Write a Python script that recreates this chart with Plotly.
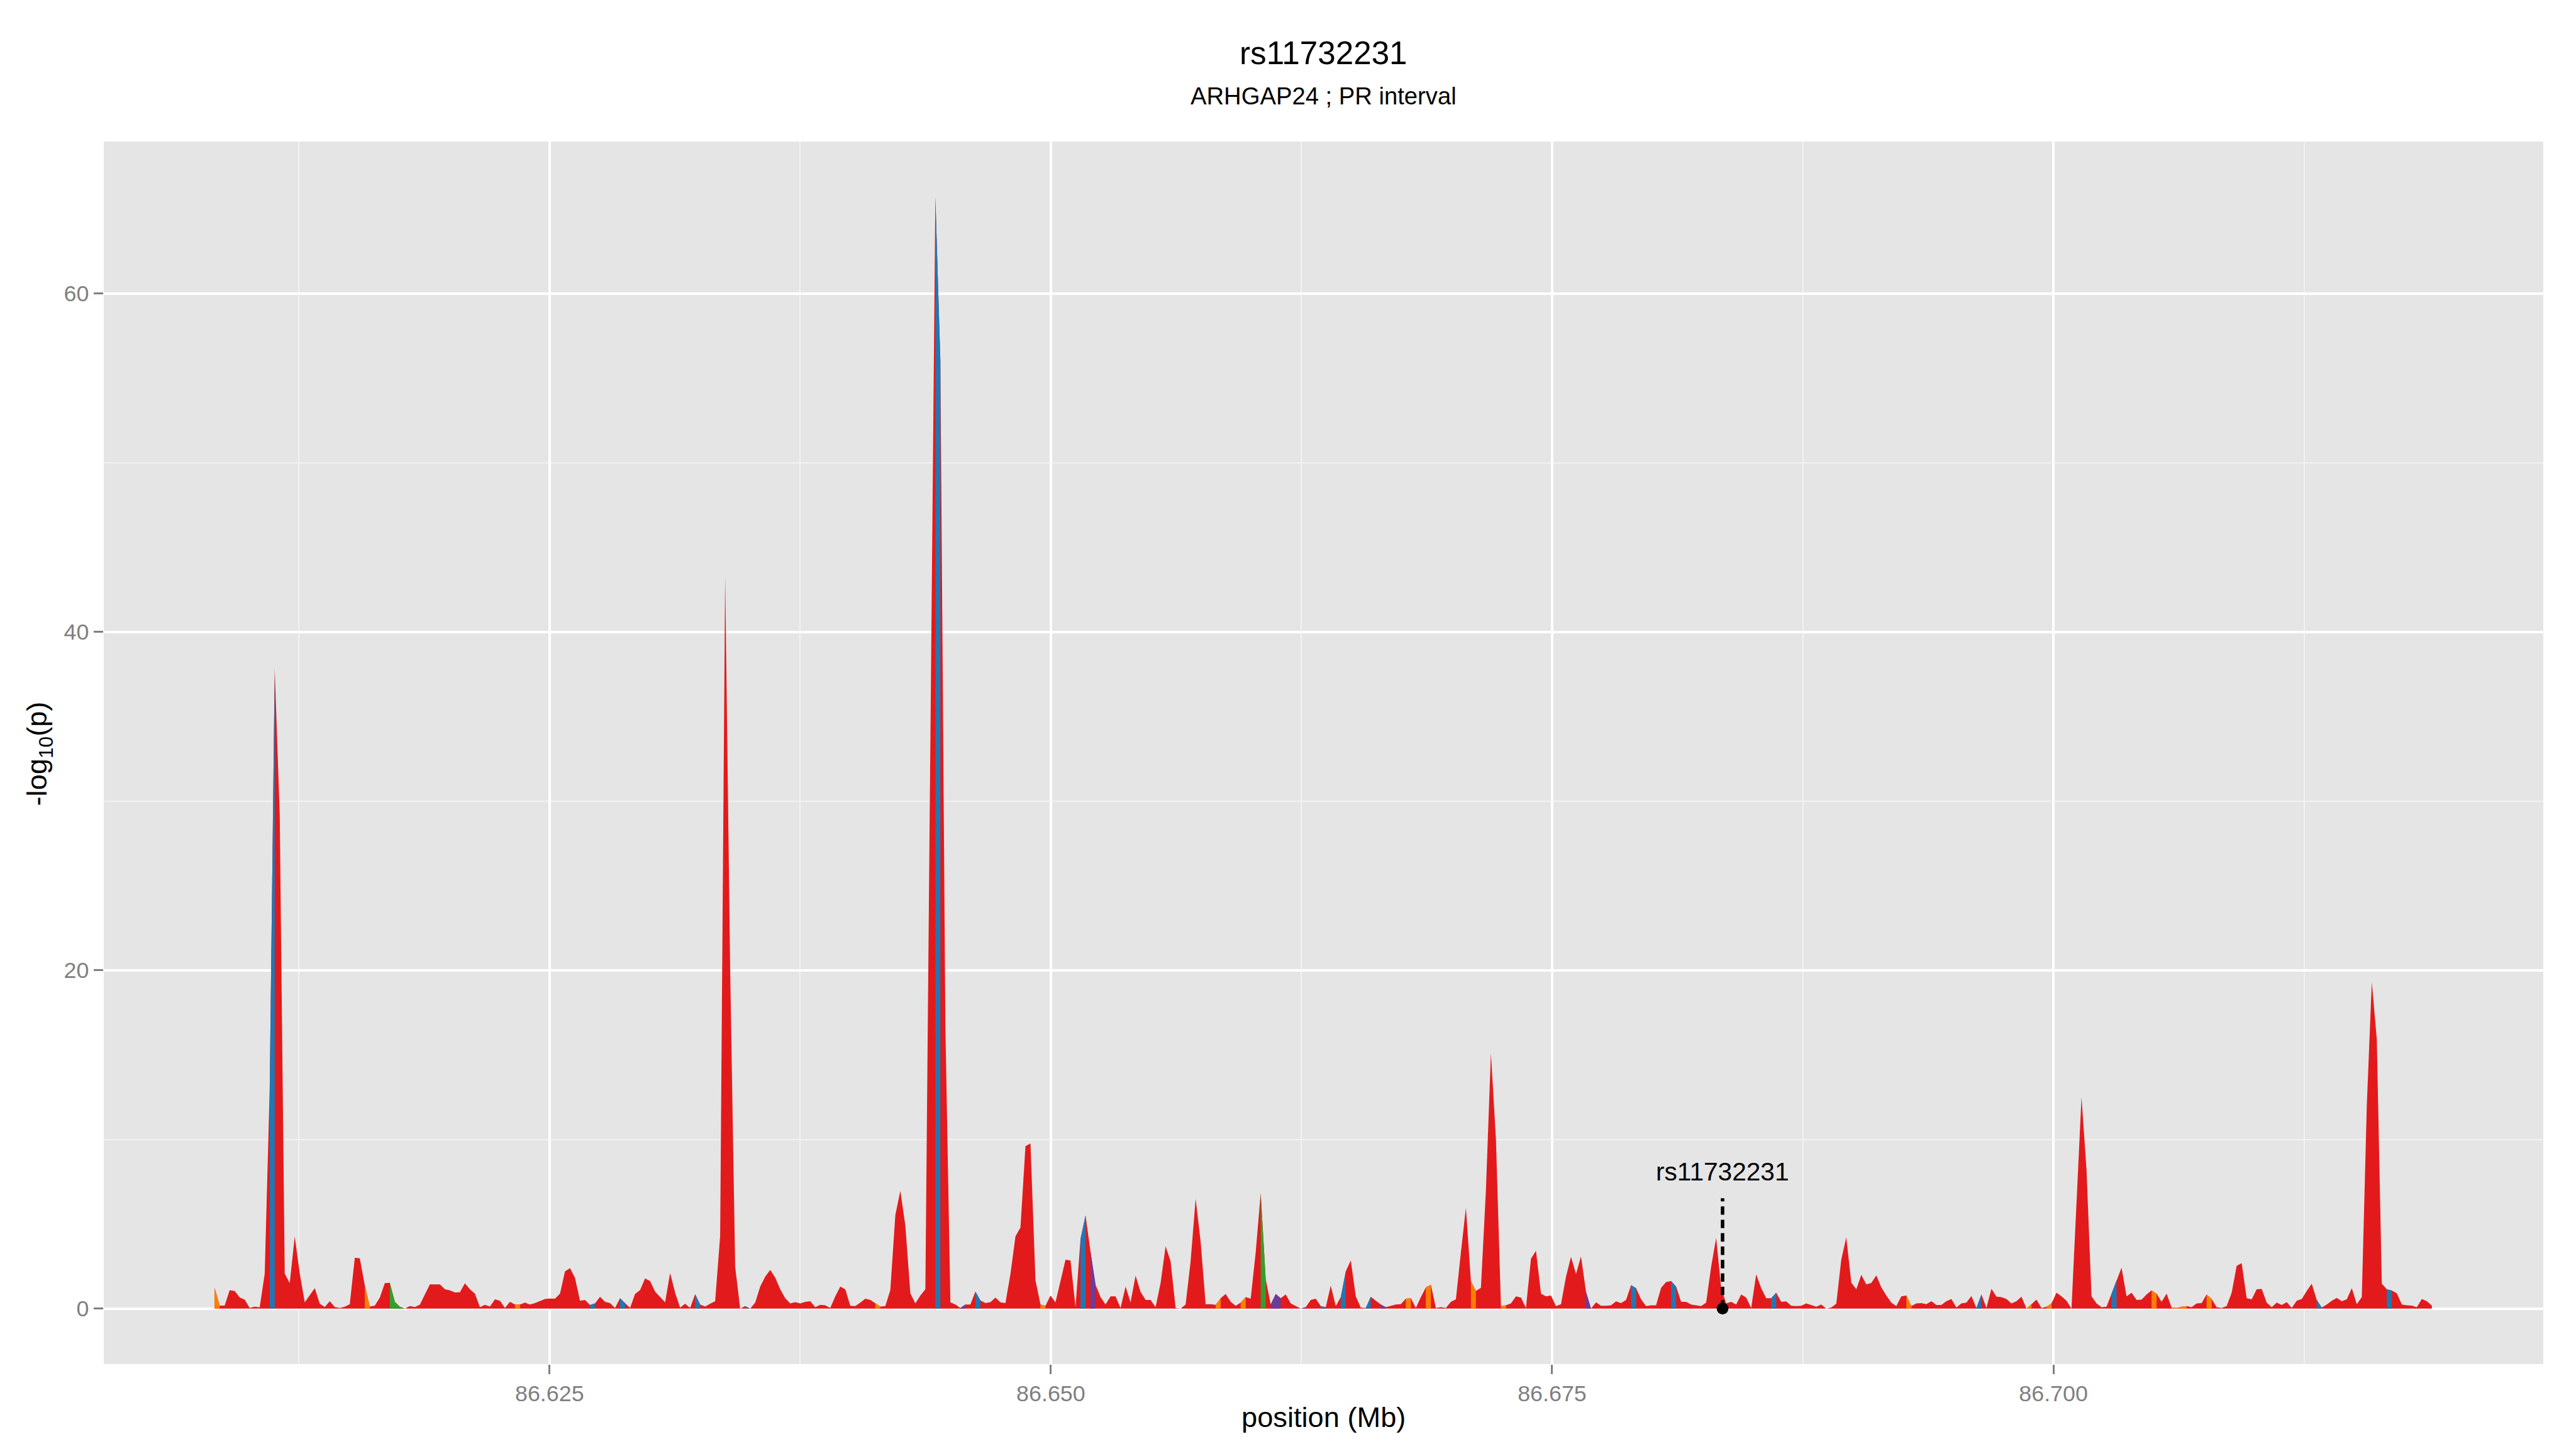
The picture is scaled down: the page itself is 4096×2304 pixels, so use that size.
import plotly.graph_objects as go

# ---------------- data ----------------
TITLE = "rs11732231"
SUBTITLE = "ARHGAP24 ; PR interval"
X_TITLE = "position (Mb)"
Y_TITLE = "-log<sub>10</sub>(p)"

POS_START = 86.6083      # Mb, first bin
POS_STEP = 0.0002496     # Mb between bins

LOGP = [
    1.22, 0.17, 0.17, 1.08, 1.04, 0.66, 0.53, 0.03, 0.11, 0.07,
    2.05, 13.0, 37.8, 29.2, 2.07, 1.5, 4.26, 2.07, 0.37, 0.8,
    1.2, 0.28, 0.09, 0.43, 0.09, 0.03, 0.11, 0.26, 3.0, 2.97,
    1.36, 0.12, 0.17, 0.65, 1.5, 1.52, 0.4, 0.11, 0.0, 0.14,
    0.09, 0.23, 0.85, 1.43, 1.43, 1.43, 1.14, 1.07, 0.95, 0.96,
    1.49, 1.14, 0.88, 0.08, 0.22, 0.12, 0.54, 0.46, 0.03, 0.4,
    0.24, 0.24, 0.35, 0.24, 0.32, 0.43, 0.56, 0.59, 0.58, 0.88,
    2.2, 2.38, 1.81, 0.46, 0.51, 0.21, 0.3, 0.69, 0.4, 0.32,
    0.03, 0.61, 0.3, 0.03, 0.86, 1.09, 1.78, 1.62, 1.0, 0.67,
    0.37, 2.1, 0.93, 0.05, 0.28, 0.03, 0.85, 0.24, 0.12, 0.28,
    0.43, 4.3, 43.3, 20.0, 2.47, 0.0, 0.14, 0.0, 0.35, 1.3,
    1.88, 2.28, 1.83, 1.14, 0.61, 0.3, 0.38, 0.3, 0.4, 0.43,
    0.08, 0.22, 0.19, 0.03, 0.72, 1.3, 1.14, 0.16, 0.14, 0.35,
    0.58, 0.51, 0.32, 0.12, 0.14, 1.09, 5.53, 6.96, 4.9, 0.9,
    0.3, 0.77, 1.14, 33.0, 65.7, 56.0, 16.6, 0.37, 0.24, 0.03,
    0.24, 0.24, 1.0, 0.48, 0.32, 0.38, 0.65, 0.37, 0.32, 2.04,
    4.26, 4.79, 9.6, 9.75, 1.67, 0.24, 0.16, 0.77, 0.37, 1.62,
    2.89, 2.84, 0.08, 4.1, 5.51, 3.35, 1.41, 0.67, 0.24, 0.72,
    0.72, 0.03, 1.3, 0.37, 1.94, 0.98, 0.51, 0.51, 0.08, 1.51,
    3.68, 2.78, 0.03, 0.0, 0.24, 2.8, 6.49, 3.95, 0.26, 0.26,
    0.22, 0.61, 0.86, 0.4, 0.16, 0.35, 0.67, 0.58, 3.31, 6.83,
    1.72, 0.24, 0.86, 0.61, 0.83, 0.3, 0.16, 0.0, 0.08, 0.51,
    0.58, 0.14, 0.08, 1.35, 0.14, 0.67, 2.2, 2.84, 0.72, 0.05,
    0.03, 0.69, 0.46, 0.24, 0.08, 0.16, 0.24, 0.26, 0.58, 0.61,
    0.03, 0.67, 1.25, 1.41, 0.03, 0.08, 0.03, 0.4, 0.54, 3.31,
    5.96, 1.62, 1.04, 1.22, 7.0, 15.1, 10.0, 0.14, 0.19, 0.3,
    0.72, 0.65, 0.03, 2.94, 3.42, 0.88, 0.72, 0.77, 0.14, 0.26,
    1.88, 3.05, 2.04, 3.08, 0.98, 0.0, 0.37, 0.16, 0.16, 0.19,
    0.42, 0.32, 0.51, 1.38, 1.2, 0.54, 0.14, 0.19, 0.19, 1.22,
    1.57, 1.62, 1.3, 0.4, 0.4, 0.24, 0.19, 0.14, 0.35, 2.47,
    4.18, 1.2, 0.3, 0.4, 0.24, 0.83, 0.65, 0.03, 2.02, 1.2,
    0.61, 0.61, 0.93, 0.4, 0.42, 0.16, 0.14, 0.16, 0.3, 0.21,
    0.11, 0.24, 0.0, 0.06, 0.28, 2.89, 4.21, 1.53, 1.14, 1.99,
    1.43, 1.51, 1.96, 1.25, 0.77, 0.35, 0.14, 0.72, 0.77, 0.14,
    0.3, 0.32, 0.26, 0.43, 0.21, 0.21, 0.43, 0.56, 0.06, 0.3,
    0.35, 0.74, 0.03, 0.83, 0.03, 1.17, 0.7, 0.67, 0.56, 0.3,
    0.43, 0.7, 0.0, 0.26, 0.53, 0.03, 0.11, 0.3, 0.93, 0.72,
    0.46, 0.0, 6.0, 12.5, 8.18, 0.72, 0.3, 0.08, 0.11, 0.88,
    1.67, 2.41, 0.72, 0.93, 0.51, 0.53, 0.83, 1.07, 0.88, 0.4,
    0.88, 0.05, 0.03, 0.11, 0.14, 0.08, 0.3, 0.32, 0.83, 0.56,
    0.08, 0.03, 0.14, 0.93, 2.52, 2.68, 0.61, 0.54, 1.14, 1.16,
    0.35, 0.08, 0.35, 0.21, 0.38, 0.03, 0.46, 0.56, 1.04, 1.46,
    0.51, 0.06, 0.24, 0.46, 0.63, 0.43, 0.54, 1.2, 0.26, 0.67,
    12.0, 19.3, 15.9, 1.46, 1.14, 1.06, 0.9, 0.24, 0.19, 0.17,
    0.08, 0.56, 0.43, 0.17,
]

# bins (segment start index) belonging to non-red classes; all others are red
SEG_BLUE = [11, 75, 81, 96, 106, 144, 152, 173, 221, 225, 230, 283, 291, 311,
            352, 379, 420, 434]
SEG_GREEN = [35, 36, 37, 209]
SEG_PURPLE = [149, 175, 211, 212, 217, 233, 274]
SEG_ORANGE = [0, 30, 60, 132, 165, 200, 205, 238, 242, 251, 257, 338, 362, 366,
              387, 391, 392, 393, 398]

SNP_NAME = "rs11732231"
SNP_POS = 86.6835
SNP_LOGP = 0.0
SNP_LINE_TOP = 6.52
SNP_LABEL_Y = 8.1

X_RANGE = [86.60277, 86.72443]
Y_RANGE = [-3.285, 68.985]

RED = "#E31A1C"
BLUE = "#1F78B4"
GREEN = "#33A02C"
PURPLE = "#6A3D9A"
ORANGE = "#FF7F00"

# ---------------- figure ----------------
S = 4096 / 4800.0
FONT = "Liberation Sans, Arial, Helvetica, sans-serif"

positions = [POS_START + POS_STEP * i for i in range(len(LOGP))]

fig = go.Figure()

# base (red) area over all bins
fig.add_trace(go.Scatter(
    x=positions, y=LOGP, mode="lines", fill="tozeroy",
    fillcolor=RED, line=dict(width=0, color=RED), hoverinfo="skip",
))


def runs(segs):
    groups = []
    for s in sorted(segs):
        if groups and s == groups[-1][-1] + 1:
            groups[-1].append(s)
        else:
            groups.append([s])
    return groups


for color, segs in [(BLUE, SEG_BLUE), (GREEN, SEG_GREEN),
                    (PURPLE, SEG_PURPLE), (ORANGE, SEG_ORANGE)]:
    xs, ys = [], []
    for g in runs(segs):
        a, b = g[0], g[-1] + 1
        xs += [positions[a]] + positions[a:b + 1] + [positions[b], None]
        ys += [0] + LOGP[a:b + 1] + [0, None]
    fig.add_trace(go.Scatter(
        x=xs, y=ys, mode="lines", fill="toself", fillcolor=color,
        line=dict(width=0, color=color), hoverinfo="skip",
    ))

# index SNP marker
fig.add_trace(go.Scatter(
    x=[SNP_POS, SNP_POS], y=[SNP_LOGP, SNP_LINE_TOP], mode="lines",
    line=dict(color="black", width=6.5 * S, dash="%.1fpx,%.1fpx" % (15.7 * S, 9.3 * S)),
    hoverinfo="skip",
))
fig.add_trace(go.Scatter(
    x=[SNP_POS], y=[SNP_LOGP], mode="markers",
    marker=dict(color="black", size=22 * S, line=dict(width=0)),
    hoverinfo="skip",
))

panel_l = 193 * S
panel_r = 4739 * S
panel_t = 264 * S
panel_b = 2542 * S
W, H = 4096, 2304


def paper_y(py):
    return (panel_b - py) / (panel_b - panel_t)


def paper_x(px):
    return (px - panel_l) / (panel_r - panel_l)


annotations = [
    dict(text=TITLE, x=0.5, xref="paper", y=paper_y(99 * S), yref="paper",
         xanchor="center", yanchor="middle", showarrow=False,
         font=dict(family=FONT, size=60 * S, color="black")),
    dict(text=SUBTITLE, x=0.5, xref="paper", y=paper_y(179 * S), yref="paper",
         xanchor="center", yanchor="middle", showarrow=False,
         font=dict(family=FONT, size=44.8 * S, color="black")),
    dict(text=X_TITLE, x=0.5, xref="paper", y=paper_y(2641 * S), yref="paper",
         xanchor="center", yanchor="middle", showarrow=False,
         font=dict(family=FONT, size=53 * S, color="black")),
    dict(text=Y_TITLE, x=paper_x(72 * S), xref="paper", y=paper_y(1405 * S), yref="paper",
         xanchor="center", yanchor="middle", showarrow=False, textangle=-90,
         font=dict(family=FONT, size=53 * S, color="black")),
    dict(text=SNP_NAME, x=SNP_POS, xref="x", y=SNP_LABEL_Y, yref="y",
         xanchor="center", yanchor="middle", showarrow=False,
         font=dict(family=FONT, size=47.6 * S, color="black")),
]

axis_common = dict(
    showgrid=True, gridcolor="white", gridwidth=4.4 * S,
    zeroline=False, showline=False,
    ticks="outside", ticklen=18 * S, tickwidth=4 * S, tickcolor="#7F7F7F",
    tickfont=dict(family=FONT, size=42 * S, color="#7F7F7F"),
)

fig.update_layout(
    width=W, height=H,
    margin=dict(l=panel_l, r=W - panel_r, t=panel_t, b=H - panel_b, autoexpand=False),
    paper_bgcolor="white", plot_bgcolor="#E5E5E5",
    showlegend=False,
    font=dict(family=FONT),
    annotations=annotations,
    xaxis=dict(
        range=X_RANGE, tick0=86.625, dtick=0.025, tickformat=".3f",
        minor=dict(tick0=86.6125, dtick=0.0125, showgrid=True,
                   gridcolor="#F2F2F2", gridwidth=2.2 * S, ticks=""),
        **axis_common,
    ),
    yaxis=dict(
        range=Y_RANGE, tick0=0, dtick=20,
        minor=dict(tick0=10, dtick=10, showgrid=True,
                   gridcolor="#F2F2F2", gridwidth=2.2 * S, ticks=""),
        **axis_common,
    ),
)

fig.write_html(
    "out.html",
    config={"displayModeBar": False},
    post_script="document.body.style.margin='0px';document.body.style.overflow='hidden';",
)
